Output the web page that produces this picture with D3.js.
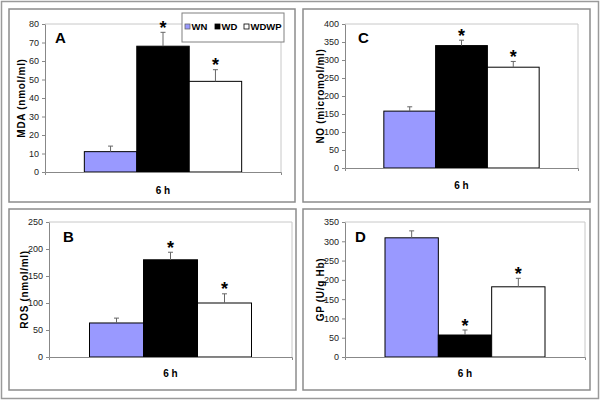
<!DOCTYPE html>
<html><head><meta charset="utf-8">
<script src="https://cdn.jsdelivr.net/npm/d3@7"></script>
<style>body{margin:0;background:#fff}svg{display:block}</style>
</head><body>
<svg id="c" width="600" height="400"></svg>
<script>
const categories = ["WN", "WD", "WDWP"];
const timeLabel = "6 h";
const colors = ["#9999ff", "#000000", "#ffffff"];

const mdaValues = [11, 68, 49];
const mdaErrTop = [14, 75.5, 55.3];
const mdaStars = [false, true, true];
const mdaTicks = [0, 10, 20, 30, 40, 50, 60, 70, 80];

const noValues = [158, 340, 280];
const noErrTop = [170, 355, 296];
const noStars = [false, true, true];
const noTicks = [0, 50, 100, 150, 200, 250, 300, 350, 400];

const rosValues = [63, 180, 100];
const rosErrTop = [72, 194, 117];
const rosStars = [false, true, true];
const rosTicks = [0, 50, 100, 150, 200, 250];

const gpValues = [309, 57, 182];
const gpErrTop = [327, 70, 204];
const gpStars = [false, true, true];
const gpTicks = [0, 50, 100, 150, 200, 250, 300, 350];

const panels = [
  {letter:"A", ylabel:"MDA (nmol/ml)", values:mdaValues, err:mdaErrTop, stars:mdaStars, ticks:mdaTicks,
   box:[9,9,295,202], plot:[45,281,24,172], lx:55, ly:43, ylx:21, xly:194, legend:true},
  {letter:"C", ylabel:"NO (micromol/ml)", values:noValues, err:noErrTop, stars:noStars, ticks:noTicks,
   box:[303,9,590,202], plot:[345,578,24,168], lx:358, ly:43, ylx:320, xly:189},
  {letter:"B", ylabel:"ROS (nmol/ml)", values:rosValues, err:rosErrTop, stars:rosStars, ticks:rosTicks,
   box:[9,209,296,390], plot:[49,292,222,357], lx:63, ly:242, ylx:24, xly:377},
  {letter:"D", ylabel:"GP (U/g Hb)", values:gpValues, err:gpErrTop, stars:gpStars, ticks:gpTicks,
   box:[303,209,590,390], plot:[345,585,222,357], lx:355, ly:242, ylx:320, xly:377}
];

const FONT = "Liberation Sans, Arial, sans-serif";
const svg = d3.select("#c");
svg.append("rect").attr("x",1.5).attr("y",1.5).attr("width",597).attr("height",397)
  .attr("fill","#fff").attr("stroke","#9a9a9a").attr("stroke-width",1.5);

panels.forEach(p => {
  const [bx0,by0,bx1,by1] = p.box;
  svg.append("rect").attr("x",bx0).attr("y",by0).attr("width",bx1-bx0).attr("height",by1-by0)
    .attr("fill","#fff").attr("stroke","#8c8c8c").attr("stroke-width",1.5);
  const [L,R,T,B] = p.plot;
  const ymax = p.ticks[p.ticks.length-1];
  const y = d3.scaleLinear().domain([0,ymax]).range([B,T]);
  const xo = d3.scaleBand().domain([timeLabel]).range([L,R]).paddingOuter(0.25).paddingInner(0);
  const xi = d3.scaleBand().domain(categories).range([xo(timeLabel), xo(timeLabel)+xo.bandwidth()]);
  const g = svg.append("g");
  g.append("path").attr("d",`M${L},${T}H${R}V${B}`).attr("fill","none").attr("stroke","#c8c8c8").attr("stroke-width",1);
  g.selectAll("rect.bar").data(categories).enter().append("rect")
    .attr("x",d=>xi(d)).attr("width",xi.bandwidth())
    .attr("y",(d,i)=>y(p.values[i])).attr("height",(d,i)=>B-y(p.values[i]))
    .attr("fill",(d,i)=>colors[i]).attr("stroke","#000").attr("stroke-width",1);
  categories.forEach((c,i)=>{
    const cx = xi(c)+xi.bandwidth()/2;
    g.append("line").attr("x1",cx).attr("x2",cx).attr("y1",y(p.values[i])).attr("y2",y(p.err[i]))
      .attr("stroke","#666").attr("stroke-width",1);
    g.append("line").attr("x1",cx-2.5).attr("x2",cx+2.5).attr("y1",y(p.err[i])).attr("y2",y(p.err[i]))
      .attr("stroke","#666").attr("stroke-width",1);
    if (p.stars[i]) {
      g.append("text").attr("x",cx).attr("y",y(p.err[i])+1.5).attr("text-anchor","middle")
        .attr("font-family",FONT).attr("font-weight","bold")
        .attr("font-size",18).attr("fill","#000").text("*");
    }
  });
  const ya = g.append("g").attr("transform",`translate(${L},0)`)
    .call(d3.axisLeft(y).tickValues(p.ticks).tickSize(3).tickSizeOuter(0).tickPadding(3));
  ya.select(".domain").attr("stroke","#888");
  ya.selectAll(".tick line").attr("stroke","#888");
  ya.selectAll("text").attr("font-family",FONT).attr("font-size",9).attr("fill","#222");
  const xa = g.append("g").attr("transform",`translate(0,${B})`)
    .call(d3.axisBottom(xo).tickSize(0).tickSizeOuter(3).tickFormat(""));
  xa.select(".domain").attr("stroke","#888");
  g.append("text").attr("x",(L+R)/2).attr("y",p.xly).attr("text-anchor","middle")
    .attr("font-family",FONT).attr("font-weight","bold").attr("font-size",10).text(timeLabel);
  g.append("text").attr("transform",`translate(${p.ylx},${(T+B)/2}) rotate(-90)`).attr("text-anchor","middle")
    .attr("dominant-baseline","central").attr("letter-spacing",0.7)
    .attr("font-family",FONT).attr("font-weight","bold").attr("font-size",10).text(p.ylabel);
  g.append("text").attr("x",p.lx).attr("y",p.ly)
    .attr("font-family",FONT).attr("font-weight","bold").attr("font-size",15).text(p.letter);
  if (p.legend) {
    const lg = svg.append("g");
    lg.append("rect").attr("x",182).attr("y",13).attr("width",102).attr("height",29)
      .attr("fill","#fff").attr("stroke","#808080").attr("stroke-width",1);
    const lx = [185,215,244];
    categories.forEach((c,i)=>{
      lg.append("rect").attr("x",lx[i]).attr("y",24).attr("width",5).attr("height",5)
        .attr("fill",colors[i]).attr("stroke",i===0?"#666":"#000").attr("stroke-width",0.8);
      lg.append("text").attr("x",lx[i]+6.5).attr("y",29.5)
        .attr("font-family",FONT).attr("font-weight","bold").attr("font-size",9.5).text(c);
    });
  }
});
</script>
</body></html>
